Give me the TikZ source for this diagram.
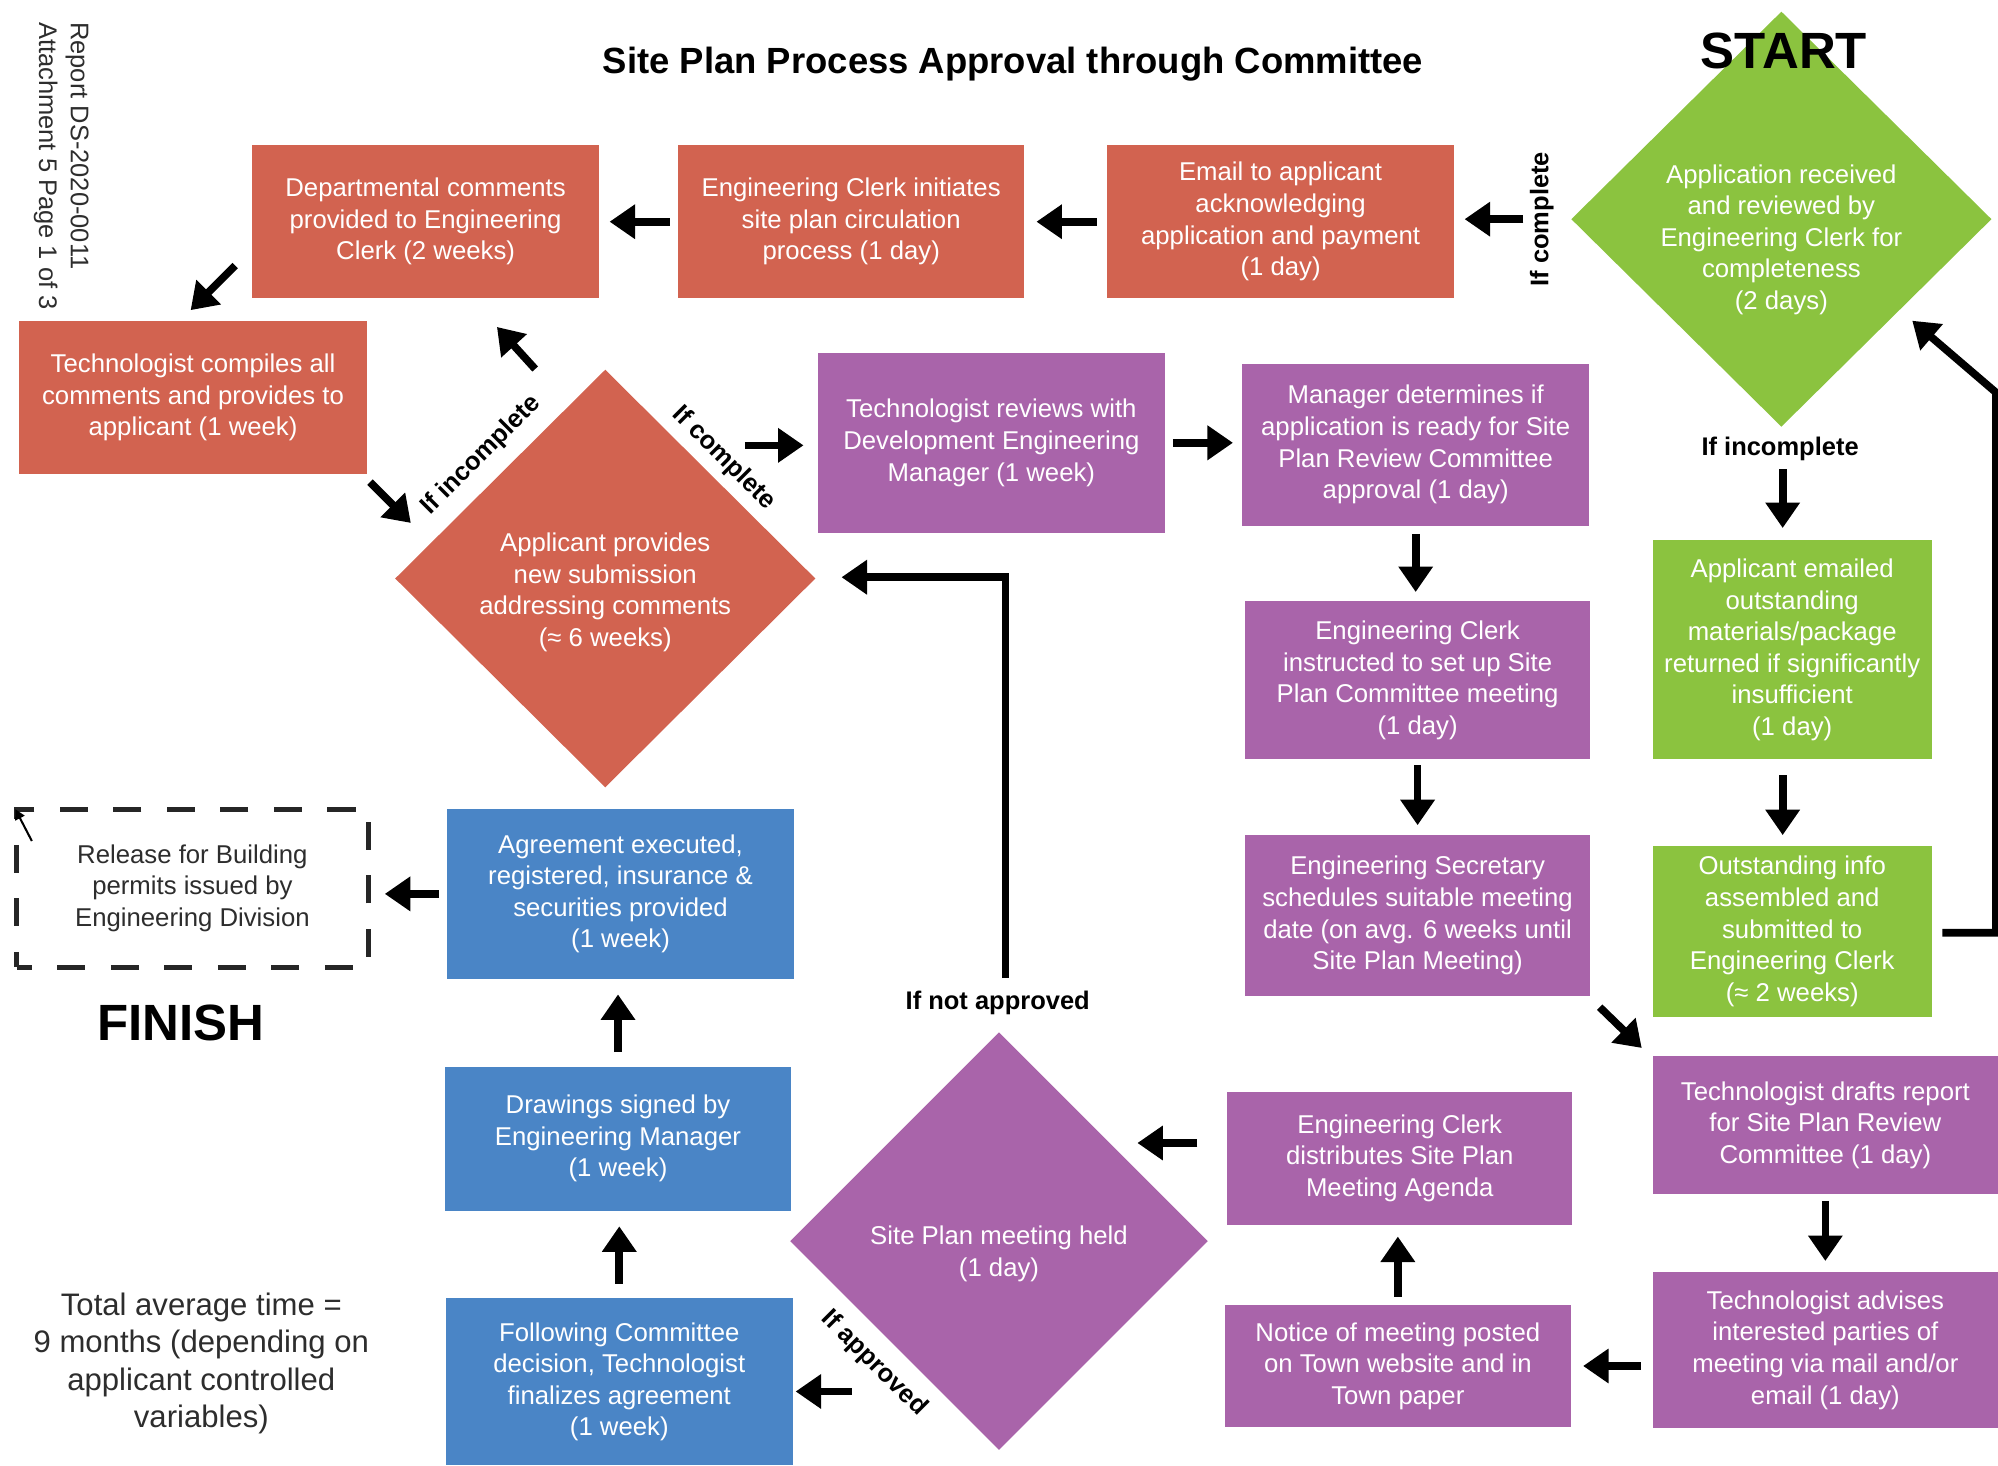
\documentclass[tikz,border=0pt]{standalone}
\usepackage{fontspec}
\setmainfont{Liberation Sans}
\usetikzlibrary{shapes.geometric,arrows.meta,calc}
\definecolor{cred}{RGB}{210,99,80}
\definecolor{cpur}{RGB}{169,100,170}
\definecolor{cgrn}{RGB}{139,195,63}
\definecolor{cblu}{RGB}{74,133,198}
\definecolor{cdark}{RGB}{45,45,45}
\begin{document}
\begin{tikzpicture}[x=0.5pt,y=-0.5pt,
  boxtxt/.style={inner sep=0pt, text=white, align=center, font=\fontsize{10.1}{12.4}\selectfont},
  box/.style={boxtxt, rectangle, minimum width=136pt},
  redbox/.style={box, fill=cred},
  purbox/.style={box, fill=cpur},
  grnbox/.style={box, fill=cgrn, minimum width=109.5pt},
  blubox/.style={box, fill=cblu},
  dia/.style={diamond, aspect=1, inner sep=0pt, minimum width=165pt, minimum height=163pt},
  arr/.style={line width=3pt, -{Triangle[length=10pt,width=13pt]}},
  lbl/.style={inner sep=0pt, font=\bfseries\fontsize{10}{12}\selectfont, text=black},
  big/.style={inner sep=0pt, font=\bfseries\fontsize{20}{24}\selectfont, text=black},
]
\useasboundingbox (0,0) rectangle (1568,1150);

% title and side note
\node[inner sep=0pt, font=\bfseries\fontsize{14.3}{17}\selectfont] (title) at (795,50) {Site Plan Process Approval through Committee};
\node[inner sep=0pt, rotate=-90, anchor=north west, align=left, font=\fontsize{10}{12.5}\selectfont, text=cdark] (report) at (70,17) {Report DS-2020-0011\\Attachment 5 Page 1 of 3};

% diamonds
\node[dia, fill=cgrn] (dg) at (1398,172) {};
\node[boxtxt] (dgt) at (1398,188) {Application received\\and reviewed by\\Engineering Clerk for\\completeness\\(2 days)};
\node[big] (start) at (1400,40) {START};

\node[dia, fill=cred, minimum height=164pt] (dr) at (475,454) {};
\node[boxtxt] (drt) at (475,465) {Applicant provides\\new submission\\addressing comments\\(≈ 6 weeks)};

\node[dia, fill=cpur, minimum width=164pt, minimum height=164pt] (dp) at (784,974) {};
\node[boxtxt] (dpt) at (784,984) {Site Plan meeting held\\(1 day)};

% red boxes
\node[redbox, minimum height=60pt] (dc) at (334,174) {Departmental comments\\provided to Engineering\\Clerk (2 weeks)};
\node[redbox, minimum height=60pt] (ec) at (668,174) {Engineering Clerk initiates\\site plan circulation\\process (1 day)};
\node[redbox, minimum height=60pt] (em) at (1005,174) {Email to applicant\\acknowledging\\application and payment\\(1 day)};
\node[redbox, minimum height=60pt, minimum width=136.5pt] (tc) at (151.5,312) {Technologist compiles all\\comments and provides to\\applicant (1 week)};

% purple boxes
\node[purbox, minimum height=70.5pt] (tr) at (778,347.5) {Technologist reviews with\\Development Engineering\\Manager (1 week)};
\node[purbox, minimum height=63.5pt] (md) at (1111,349) {Manager determines if\\application is ready for Site\\Plan Review Committee\\approval (1 day)};
\node[purbox, minimum height=62pt, minimum width=135.5pt] (ei) at (1112.5,534) {Engineering Clerk\\instructed to set up Site\\Plan Committee meeting\\(1 day)};
\node[purbox, minimum height=63.5pt, minimum width=135.5pt] (es) at (1112.5,718.5) {Engineering Secretary\\schedules suitable meeting\\date (on avg. 6 weeks until\\Site Plan Meeting)};
\node[purbox, minimum height=54pt, minimum width=135.5pt] (td) at (1432.5,883) {Technologist drafts report\\for Site Plan Review\\Committee (1 day)};
\node[purbox, minimum height=61.5pt, minimum width=135.5pt] (ta) at (1432.5,1059.5) {Technologist advises\\interested parties of\\meeting via mail and/or\\email (1 day)};
\node[purbox, minimum height=48pt] (nm) at (1097,1072) {Notice of meeting posted\\on Town website and in\\Town paper};
\node[purbox, minimum height=52pt, minimum width=135.5pt] (cd) at (1098.5,909) {Engineering Clerk\\distributes Site Plan\\Meeting Agenda};

% blue boxes
\node[blubox, minimum height=65.5pt] (fc) at (486,1084.5) {Following Committee\\decision, Technologist\\finalizes agreement\\(1 week)};
\node[blubox, minimum height=56.5pt] (ds) at (485,893.5) {Drawings signed by\\Engineering Manager\\(1 week)};
\node[blubox, minimum height=66.5pt] (ae) at (487,701.5) {Agreement executed,\\registered, insurance \&\\securities provided\\(1 week)};

% green boxes
\node[grnbox, minimum height=86pt] (ae2) at (1406.5,510) {Applicant emailed\\outstanding\\materials/package\\returned if significantly\\insufficient\\(1 day)};
\node[grnbox, minimum height=67pt] (oi) at (1406.5,731) {Outstanding info\\assembled and\\submitted to\\Engineering Clerk\\(≈ 2 weeks)};

% finish box
\node[boxtxt, text=cdark, rectangle, draw=black!85, line width=2pt, dash pattern=on 11pt off 10pt, dash phase=5pt, minimum width=138pt, minimum height=62pt] (rb) at (151,697) {Release for Building\\permits issued by\\Engineering Division};
\node[big] (finish) at (142,803) {FINISH};
\node[inner sep=0pt, align=center, font=\fontsize{12.2}{14.75}\selectfont, text=cdark] (total) at (158,1070) {Total average time =\\9 months (depending on\\applicant controlled\\variables)};

% labels
\node[lbl, rotate=90] (lc1) at (1210,172) {If complete};
\node[lbl] (li1) at (1397,352) {If incomplete};
\node[lbl, rotate=45] (li2) at (378,357) {If incomplete};
\node[lbl, rotate=-45] (lc2) at (568,360) {If complete};
\node[lbl] (lna) at (783,787) {If not approved};
\node[lbl, rotate=-45] (lap) at (686,1070) {If approved};

% connectors
\draw[arr, shorten <=18.5pt, shorten >=4pt] (dg.west) -- (dg.west -| em.east);
\draw[arr, shorten <=4pt, shorten >=4.5pt] (em.west) -- (ec.east);
\draw[arr, shorten <=3pt, shorten >=4pt] (ec.west) -- (dc.east);
\draw[arr] ($(dc.south west)+(-13,-26)$) -- ($(dc.south west)+(-48,9)$);
\draw[arr] ($(dr.north)+(-55,0)$) -- ($(dr.north)+(-85,-33)$);
\draw[arr] ($(tc.south east)+(2,6)$) -- ($(tc.south east)+(34,38)$);
\draw[arr] ($(tr.west)+(-57,2)$) -- ($(tr.west)+(-11,2)$);
\draw[arr, shorten <=3pt, shorten >=3.5pt] (tr.east) -- (tr.east -| md.west);
\draw[arr, shorten <=3pt, shorten >=3.5pt] (md.south) -- (md.south |- ei.north);
\draw[arr, shorten <=2pt, shorten >=3.5pt] (ei.south) -- (es.north);
\draw[arr] ($(es.south east)+(7,8)$) -- ($(es.south east)+(40,40)$);
\draw[arr, shorten <=2.5pt, shorten >=4pt] (td.south) -- (ta.north);
\draw[arr, shorten <=4.5pt, shorten >=4.5pt] (ta.west |- nm.east) -- (nm.east);
\draw[arr, shorten <=3pt, shorten >=4.5pt] (nm.north) -- (nm.north |- cd.south);
\draw[arr] ($(cd.west)+(-23,-12)$) -- ($(cd.west)+(-70,-12)$);
\draw[arr] ($(fc.east)+(46,7.5)$) -- ($(fc.east)+(2,7.5)$);
\draw[arr, shorten <=5.5pt, shorten >=6pt] (fc.north) -- (fc.north |- ds.south);
\draw[arr, shorten <=5.5pt, shorten >=6pt] (ds.north) -- (ds.north |- ae.south);
\draw[arr, shorten <=3pt, shorten >=5.5pt] (ae.west) -- (ae.west -| rb.east);
\draw[arr] ($(dp.north)+(5,-42)$) |- ($(dr.east)+(20,-1)$);
\draw[arr] ($(dg.south)+(1,33)$) -- ($(dg.south)+(1,79)$);
\draw[arr] ($(ae2.south)+(-7.5,12)$) -- ($(ae2.south)+(-7.5,59)$);
\draw[arr] ($(oi.east)+(8,1)$) -- ($(oi.east)+(50,1)$) -- ($(oi.east)+(50,-423)$) -- ($(dg.south east)+(20,-2)$);
\draw[line width=0.8pt, -{Triangle[length=4pt,width=4pt]}] ($(rb.north west)+(14,27)$) -- ($(rb.north west)+(1,2)$);
\end{tikzpicture}
\end{document}
